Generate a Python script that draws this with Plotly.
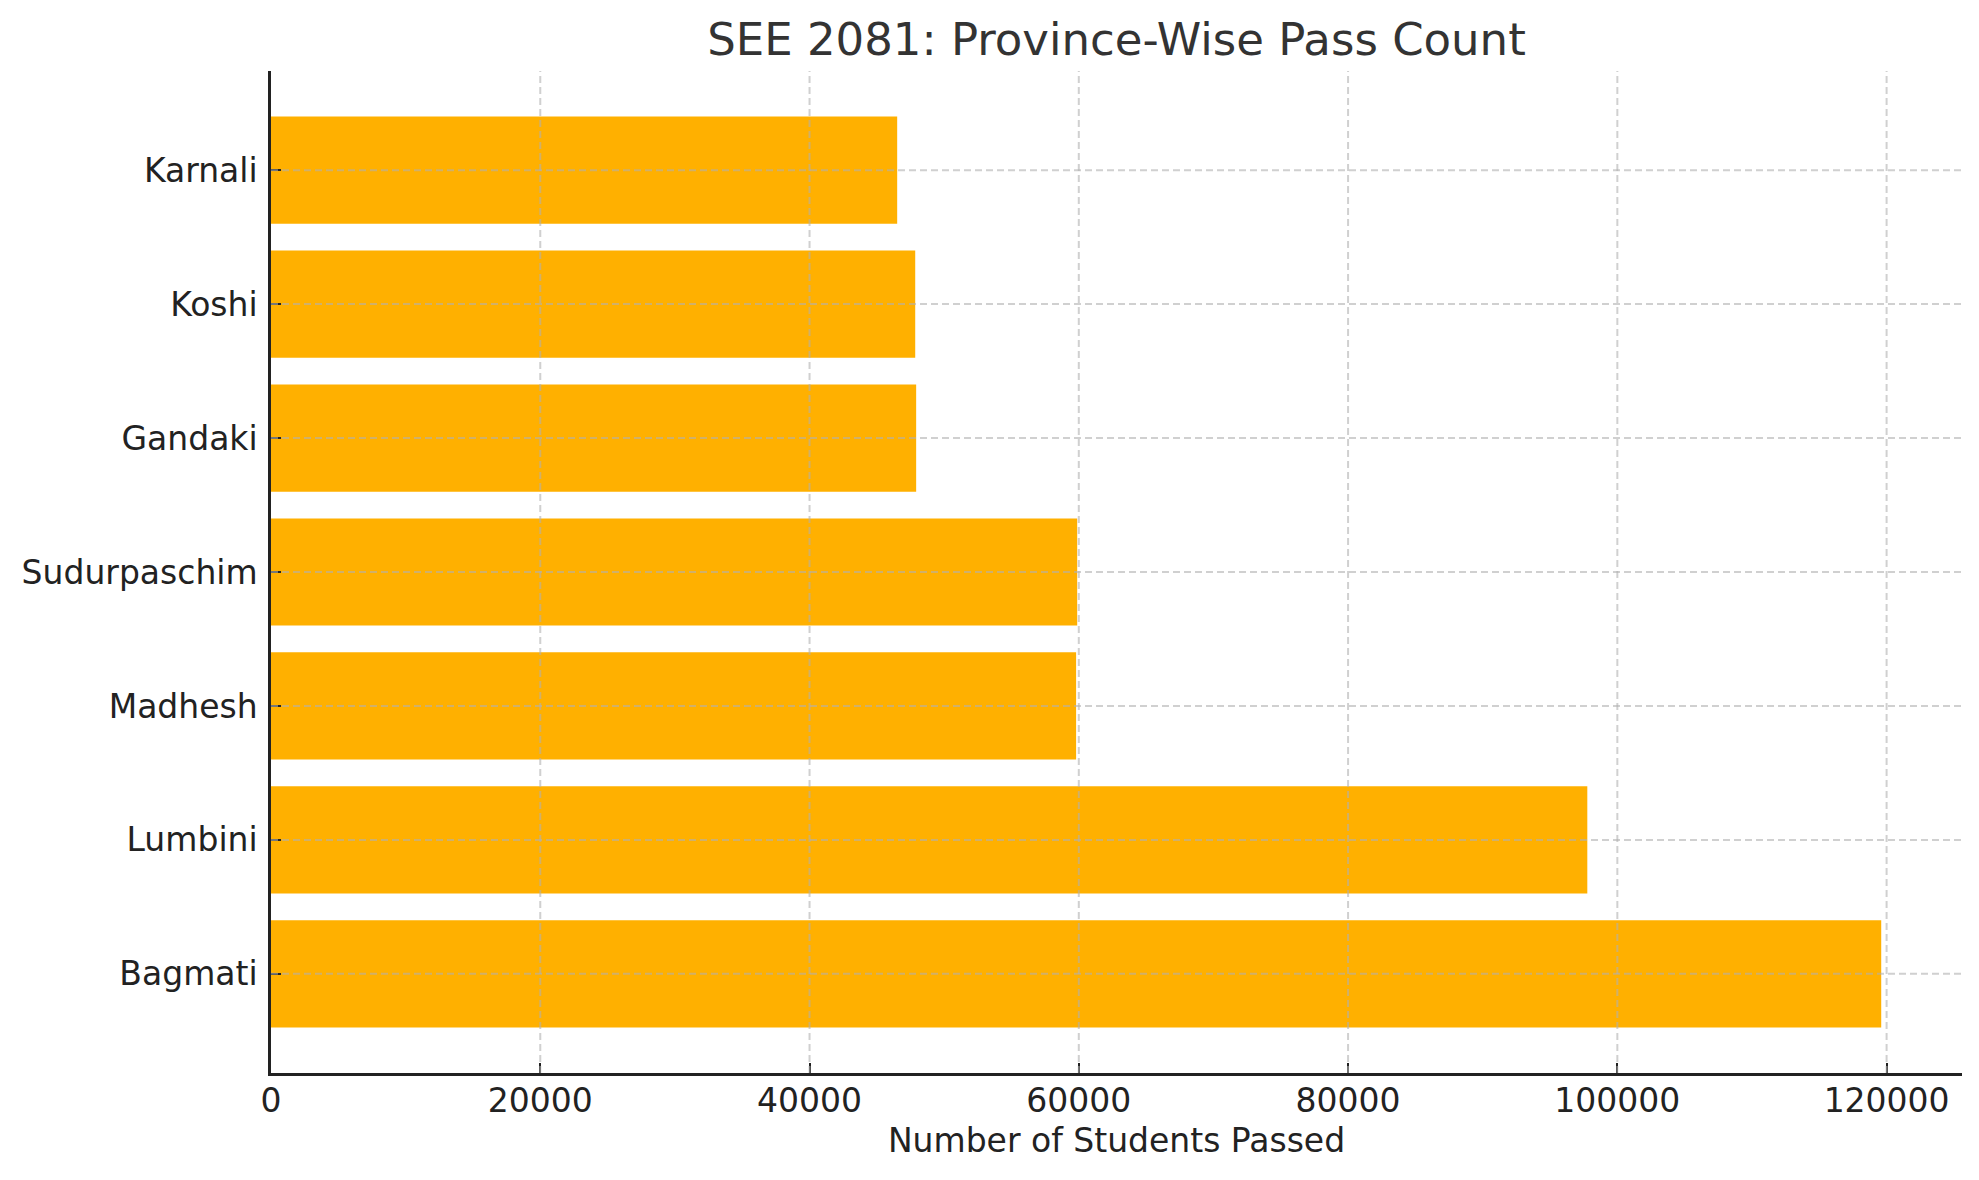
import plotly.graph_objects as go

# Datos de aprobados por provincia (SEE 2081)
provincias = ['Bagmati', 'Lumbini', 'Madhesh', 'Sudurpaschim', 'Gandaki', 'Koshi', 'Karnali']
aprobados = [119600, 97770, 59800, 59880, 47920, 47850, 46510]
x_ticks = [0, 20000, 40000, 60000, 80000, 100000, 120000]

fuente = 'DejaVu Sans'
color_grid = 'rgba(176,176,176,0.6)'

fig = go.Figure(go.Bar(
    x=aprobados, y=provincias, orientation='h',
    marker=dict(color='#FFB000', line=dict(width=0)),
    width=0.8,
))

# Grilla encima de las barras (como matplotlib)
for v in x_ticks[1:]:
    fig.add_shape(type='line', xref='x', yref='paper', x0=v, x1=v, y0=0, y1=1,
                  line=dict(color=color_grid, width=2, dash='7px,4px'), layer='above')
for p in provincias:
    fig.add_shape(type='line', xref='paper', yref='y', x0=0, x1=1, y0=p, y1=p,
                  line=dict(color=color_grid, width=2, dash='7px,4px'), layer='above')

# margenes compensan los 8px del body en el html
fig.update_layout(
    width=1979, height=1180,
    margin=dict(l=263, r=25, t=63, b=115),
    plot_bgcolor='white', paper_bgcolor='white',
    font=dict(family=fuente, size=33, color='#222222'),
    title=dict(text='SEE 2081: Province-Wise Pass Count', x=0.5, xref='paper',
               y=1 - 31 / 1180, yref='container', yanchor='middle', xanchor='center',
               font=dict(family=fuente, size=45, color='#333333')),
    showlegend=False,
)
fig.update_xaxes(
    range=[0, 125600], tickvals=x_ticks, ticktext=[str(v) for v in x_ticks],
    showgrid=False, zeroline=False, layer='above traces',
    showline=True, linecolor='#222222', linewidth=2.5,
    ticks='inside', ticklen=10, tickwidth=2, tickcolor='#222222',
    ticklabelstandoff=-3,
    title=dict(text='Number of Students Passed', standoff=10,
               font=dict(family=fuente, size=33, color='#222222')),
)
fig.update_yaxes(
    categoryorder='array', categoryarray=provincias,
    range=[-0.74, 6.74],
    showgrid=False, zeroline=False, layer='above traces',
    showline=True, linecolor='#222222', linewidth=2.5,
    ticks='inside', ticklen=10, tickwidth=2, tickcolor='#222222',
    ticklabelstandoff=4,
)

fig.write_html('out.html')
